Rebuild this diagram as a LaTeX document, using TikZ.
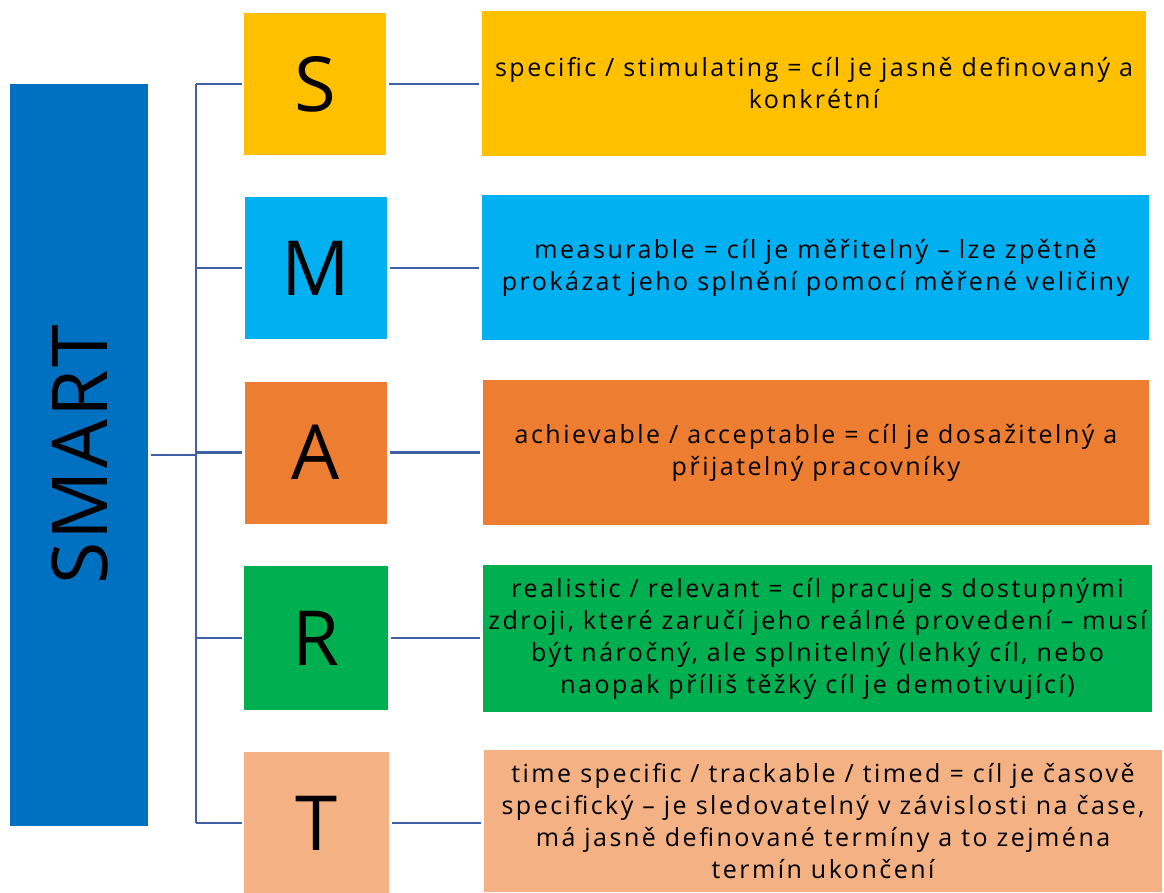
\documentclass[tikz,border=0pt]{standalone}
\usepackage{fontspec}
\setmainfont{Open Sans}
\newfontfamily\descfont[LetterSpace=10]{Open Sans}
\newfontfamily\bigfont[LetterSpace=3]{Open Sans}
\definecolor{cbar}{HTML}{0070C0}
\definecolor{cS}{HTML}{FFC000}
\definecolor{cM}{HTML}{00B0F0}
\definecolor{cA}{HTML}{ED7D31}
\definecolor{cR}{HTML}{00B050}
\definecolor{cT}{HTML}{F4B183}
\definecolor{cline}{HTML}{3F60A3}
\begin{document}
\begin{tikzpicture}[x=1pt,y=-1pt,
  letterbox/.style={inner sep=0pt, minimum width=142pt, minimum height=142pt, font=\fontsize{76}{80}\selectfont, text=black},
  descbox/.style={inner sep=0pt, minimum height=145pt, align=center, font=\descfont\fontsize{25}{32}\selectfont, text=black},
  conn/.style={draw=cline, line width=2.2pt}]
\useasboundingbox (0,0) rectangle (1164,893);
\node[fill=cbar, inner sep=0pt, minimum width=138pt, minimum height=742pt] (bar) at (79,455) {};
\node[rotate=90, font=\bigfont\fontsize{77}{90}\selectfont, text=black] (smart) at (80,455) {SMART};
\node[letterbox, fill=cS] (s) at (315,84) {S};
\node[letterbox, fill=cM] (m) at (315.5,268) {M};
\node[letterbox, fill=cA] (a) at (315.5,452.5) {A};
\node[letterbox, fill=cR, minimum width=144pt, minimum height=144pt] (r) at (316,638) {R};
\node[letterbox, fill=cT, minimum width=145pt, minimum height=142pt] (t) at (316.5,823) {T};
\node[descbox, fill=cS, minimum width=664pt] (sd) at (814,83.5) {specific / stimulating = cíl je jasně definovaný a\\konkrétní};
\node[descbox, fill=cM, minimum width=667pt] (md) at (815.5,267.5) {measurable = cíl je měřitelný – lze zpětně\\prokázat jeho splnění pomocí měřené veličiny};
\node[descbox, fill=cA, minimum width=666pt] (ad) at (816,452.5) {achievable / acceptable = cíl je dosažitelný a\\přijatelný pracovníky};
\node[descbox, fill=cR, minimum width=669pt, minimum height=147pt] (rd) at (817.5,638.5) {realistic / relevant = cíl pracuje s dostupnými\\zdroji, které zaručí jeho reálné provedení – musí\\být náročný, ale splnitelný (lehký cíl, nebo\\naopak příliš těžký cíl je demotivující)};
\node[descbox, fill=cT, minimum width=678pt, minimum height=142pt] (td) at (823,821) {time specific / trackable / timed = cíl je časově\\specifický – je sledovatelný v závislosti na čase,\\má jasně definované termíny a to zejména\\termín ukončení};
\coordinate (bus) at (196,455);
\draw[conn] ([xshift=3pt]bar.east) -- (bus);
\draw[conn] (bus |- s.west) -- (bus |- t.west);
\foreach \n in {s,m,a,r,t}{
  \draw[conn] (bus |- \n.west) -- ([xshift=-2pt]\n.west);
  \draw[conn] ([xshift=3pt]\n.east) -- ([xshift=-3pt]\n d.west |- \n.east);
}
\end{tikzpicture}
\end{document}
